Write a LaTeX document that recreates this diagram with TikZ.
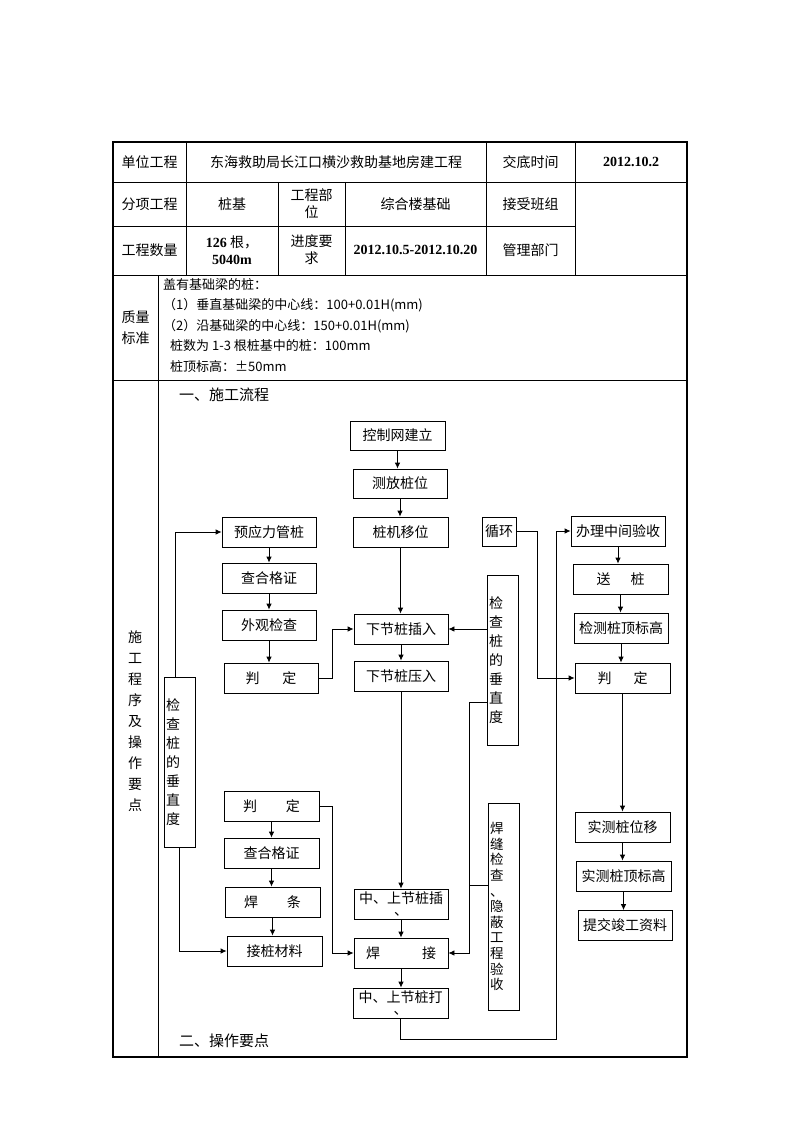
\documentclass[tikz,border=0pt]{standalone}
\usepackage{fontspec}
\setmainfont{Noto Sans CJK SC}
\newfontfamily\numfont{Liberation Serif}
\usetikzlibrary{arrows.meta}
\newcommand\fsz[2]{\fontsize{#1pt}{#2pt}\selectfont}
\begin{document}
\begin{tikzpicture}[x=1pt,y=-1pt,
  ln/.style={line width=0.8pt},
  arr/.style={line width=0.8pt,-{Latex[length=6pt,width=5.5pt]}},
  box/.style={draw,line width=0.8pt,minimum width=94pt,minimum height=30pt,inner sep=1pt,font=\fsz{14}{12},align=center},
  vbox/.style={draw,line width=0.8pt,text width=27pt,inner xsep=2pt,inner ysep=2pt,align=left,font=\fsz{14}{19}},
  cell/.style={font=\fsz{14}{17},align=center,inner sep=0pt},
  qtext/.style={font=\fsz{13}{20.5},align=left,inner sep=0pt,anchor=north west}
]
\useasboundingbox[fill=white] (0,0) rectangle (794,1123);
% ---------- table ----------
\draw[line width=2pt] (113,142) rectangle (687,1057);
\draw[ln] (113,182) -- (687,182);
\draw[ln] (113,226) -- (575,226);
\draw[ln] (113,275) -- (687,275);
\draw[ln] (113,380) -- (687,380);
\draw[ln] (186,142) -- (186,275);
\draw[ln] (278,182) -- (278,275);
\draw[ln] (345,182) -- (345,275);
\draw[ln] (486,142) -- (486,275);
\draw[ln] (575,142) -- (575,275);
\draw[ln] (158,275) -- (158,1057);
% header texts
\node[cell] (t11) at (149.5,162) {单位工程};
\node[cell] (t12) at (336,162) {东海救助局长江口横沙救助基地房建工程};
\node[cell] (t13) at (530.5,162) {交底时间};
\node[cell] (t14) at (631,162) {\numfont\bfseries 2012.10.2};
\node[cell] (t21) at (149.5,204) {分项工程};
\node[cell] (t22) at (232,204) {桩基};
\node[cell] (t23) at (311.5,204) {工程部\\位};
\node[cell] (t24) at (415.5,204) {综合楼基础};
\node[cell] (t25) at (530.5,204) {接受班组};
\node[cell] (t31) at (149.5,250.5) {工程数量};
\node[cell] (t32) at (232,250) {{\numfont\bfseries 126} 根，\\{\numfont\bfseries 5040m}};
\node[cell] (t33) at (311.5,250) {进度要\\求};
\node[cell] (t34) at (415.5,250) {\numfont\bfseries 2012.10.5-2012.10.20};
\node[cell] (t35) at (530.5,250) {管理部门};
% quality
\node[cell,font=\fsz{14}{21}] (q0) at (135.5,327.5) {质量\\标准};
\node[qtext] (q1) at (163,278) {盖有基础梁的桩：\\
（1）垂直基础梁的中心线：100+0.01H(mm)\\
（2）沿基础梁的中心线：150+0.01H(mm)\\
\hspace*{7pt}桩数为 1-3 根桩基中的桩：100mm\\
\hspace*{7pt}桩顶标高：±50mm};
% left label
\node[cell,font=\fsz{14}{21}] (lab) at (135,721) {施\\工\\程\\序\\及\\操\\作\\要\\点};
\node[anchor=west,inner sep=0pt,font=\fsz{15}{18}] (h1) at (179,395) {一、施工流程};
\node[anchor=west,inner sep=0pt,font=\fsz{15}{18}] (h2) at (179,1041) {二、操作要点};
% ---------- flow boxes ----------
\node[box,minimum width=95pt,minimum height=29pt] (kzw) at (397.5,435.5) {控制网建立};
\node[box,minimum height=29pt] (cf) at (400,483.5) {测放桩位};
\node[box,minimum width=95pt] (zjyw) at (400.5,532) {桩机移位};
\node[box] (yyl) at (269,532) {预应力管桩};
\node[box] (chg1) at (269,578) {查合格证};
\node[box] (wg) at (269,625) {外观检查};
\node[box] (pd1) at (271,678) {判\hspace{23pt}定};
\node[box] (xcr) at (401,629) {下节桩插入};
\node[box] (xcy) at (401,676) {下节桩压入};
\node[box,minimum width=34pt,minimum height=29pt] (xh) at (499,531.5) {循环};
\node[box] (blzj) at (618,531) {办理中间验收};
\node[box,minimum width=95pt] (sz) at (620.5,579) {送\hspace{20pt}桩};
\node[box] (jczd) at (621,628) {检测桩顶标高};
\node[box,minimum width=95pt] (pdR) at (622.5,678) {判\hspace{22pt}定};
\node[vbox,minimum height=170pt] (jcR) at (502.5,660) {检\\查\\桩\\的\\垂\\直\\度};
\node[vbox,minimum height=170pt] (jcL) at (179.5,762) {检\\查\\桩\\的\\垂\\直\\度};
\node[box,minimum width=95pt] (pdL) at (271.5,806) {判\hspace{29pt}定};
\node[box,minimum width=95pt] (chg2) at (271.5,853) {查合格证};
\node[box,minimum width=95pt] (ht) at (272.5,902) {焊\hspace{29pt}条};
\node[box,minimum width=95pt] (jzcl) at (274.5,951) {接桩材料};
\node[box] (zsc) at (401,904) {中、上节桩插\\、};
\node[box] (hj) at (401,953) {焊\hspace{42pt}接};
\node[box,minimum width=95pt] (zsd) at (400.5,1003) {中、上节桩打\\、};
\node[vbox,font=\fsz{13.5}{15.6},minimum height=207pt] (hf) at (503.5,906.5) {焊\\缝\\检\\查\\、\\隐\\蔽\\工\\程\\验\\收};
\node[box,minimum width=95pt] (sswy) at (622.5,827) {实测桩位移};
\node[box,minimum width=95pt] (ssbg) at (623.5,876) {实测桩顶标高};
\node[box] (tj) at (625,925.5) {提交竣工资料};
% ---------- connectors ----------
\draw[arr] (kzw.south) -- (kzw.south |- cf.north);
\draw[arr] (cf.south) -- (cf.south |- zjyw.north);
\draw[arr] (zjyw.south) -- (zjyw.south |- xcr.north);
\draw[arr] (xcr.south) -- (xcr.south |- xcy.north);
\draw[arr] (xcy.south) -- (xcy.south |- zsc.north);
\draw[arr] (zsc.south) -- (zsc.south |- hj.north);
\draw[arr] (hj.south) -- (hj.south |- zsd.north);
\draw[arr] (yyl.south) -- (yyl.south |- chg1.north);
\draw[arr] (chg1.south) -- (chg1.south |- wg.north);
\draw[arr] (wg.south) -- (wg.south |- pd1.north);
\draw[arr] (pd1.east) -- (332,678) |- (xcr.west);
\draw[arr] (jcR.west |- xcr.east) -- (xcr.east);
\draw[arr] (blzj.south) -- (blzj.south |- sz.north);
\draw[arr] (sz.south) -- (sz.south |- jczd.north);
\draw[arr] (jczd.south) -- (jczd.south |- pdR.north);
\draw[arr] (pdR.south) -- (pdR.south |- sswy.north);
\draw[arr] (sswy.south) -- (sswy.south |- ssbg.north);
\draw[arr] (ssbg.south) -- (ssbg.south |- tj.north);
\draw[arr] (xh.east) -- (537,531.5) |- (pdR.west);
\draw[arr] (zsd.south) |- (556,1039) |- (blzj.west);
\draw[arr] (jcR.west |- 0,702) -| (469,953) -- (hj.east);
\draw[ln] (hf.west |- 0,885) -- (469,885);
\draw[arr] ([xshift=-4.5pt]jcL.north) |- (yyl.west);
\draw[arr] (jcL.south) |- (jzcl.west);
\draw[arr] (pdL.south) -- (pdL.south |- chg2.north);
\draw[arr] (chg2.south) -- (chg2.south |- ht.north);
\draw[arr] (ht.south) -- (ht.south |- jzcl.north);
\draw[arr] (pdL.east) -- (332.5,806) |- (hj.west);
\end{tikzpicture}
\end{document}
